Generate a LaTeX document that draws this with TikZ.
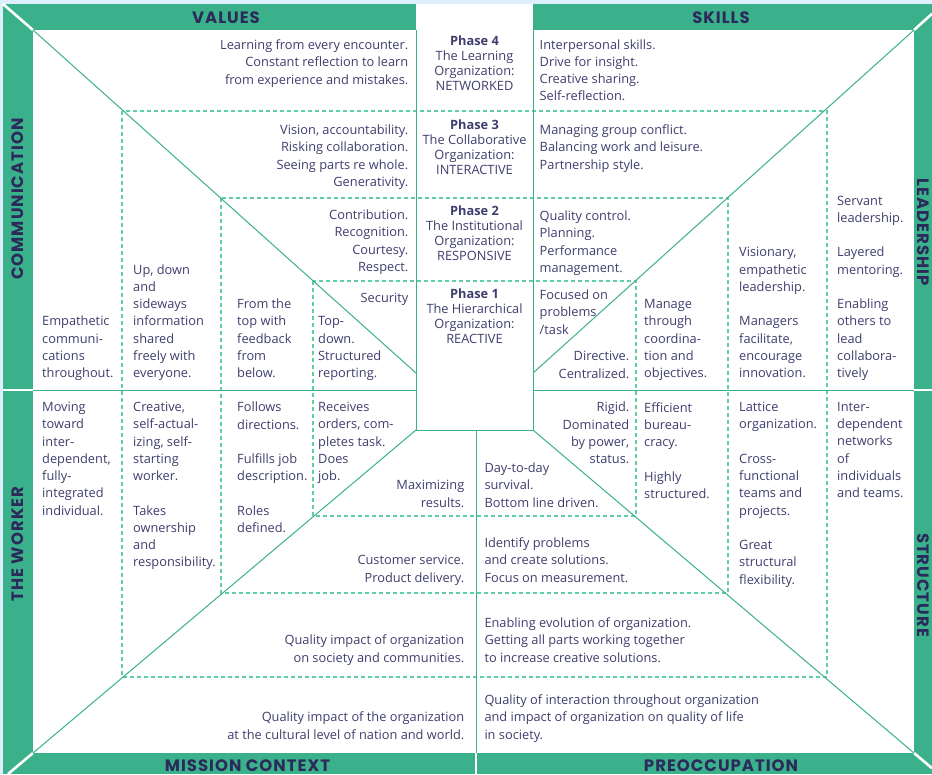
\documentclass[tikz,border=0pt]{standalone}
\usepackage{fontspec}
\setmainfont{Open Sans}
\newfontfamily\bandfont[LetterSpace=6]{Poppins}
\definecolor{paper}{HTML}{DDEFFA}
\definecolor{bandgreen}{HTML}{3BB18B}
\definecolor{ringgreen}{HTML}{5FCFA3}
\definecolor{ink}{HTML}{3F3E6E}
\definecolor{titleink}{HTML}{2B2A5B}

\begin{document}
\begin{tikzpicture}[
        x=1pt, y=-1pt,
        txt/.style={font=\fontsize{12.8}{17.25}\selectfont, text=ink, inner sep=0pt,
            execute at begin node=\strut, execute at end node=\strut},
        lft/.style={txt, align=left},
        rgt/.style={txt, align=right},
        phs/.style={font=\fontsize{12.8}{14.8}\selectfont, text=ink, inner sep=0pt,
            align=center, execute at begin node=\strut, execute at end node=\strut},
        band/.style={font=\bandfont\bfseries\fontsize{16.5}{16.5}\selectfont, text=titleink, inner sep=0pt},
        frame/.style={bandgreen, line width=1pt},
        ring/.style={ringgreen, line width=1.1pt, dash pattern=on 4pt off 3pt},
        cut/.style={white, line width=2.6pt}
    ]
        \useasboundingbox (0,0) rectangle (932,774);
        \fill[paper] (0,0) rectangle (932,774);

        % Outer green bands and white field
        \fill[bandgreen] (3,4) rectangle (932,774);
        \fill[white] (33,30) rectangle (914,753);
        \fill[white] (416,4) rectangle (533,30);

        % Key points
        \coordinate (tl) at (33,30);
        \coordinate (tr) at (914,30);
        \coordinate (bl) at (33,753);
        \coordinate (br) at (914,753);
        \coordinate (otl) at (3,4);
        \coordinate (otr) at (932,13.8);
        \coordinate (obl) at (8,774);
        \coordinate (obr) at (932,768.2);
        \coordinate (boxtl) at (416,30);
        \coordinate (boxtr) at (533,30);
        \coordinate (boxbl) at (416,430);
        \coordinate (boxbr) at (533,430);
        \coordinate (diagl) at (416,373);
        \coordinate (diagr) at (533,373);
        \coordinate (stemtop) at (476,430);
        \coordinate (stembot) at (476,753);
        \coordinate (stemend) at (476,774);
        \coordinate (midl) at (33,390);
        \coordinate (midlx) at (416,390);
        \coordinate (midr) at (533,390);
        \coordinate (midrx) at (914,390);
        \coordinate (bandl) at (3,390);
        \coordinate (bandr) at (932,390);

        % Gaps in the bands
        \draw[cut, line width=2pt] (bandl) -- (midl);
        \draw[cut, line width=2pt] (midrx) -- (bandr);
        \draw[cut, line width=2pt] (stembot) -- (stemend);
        \draw[cut] (otl) -- (tl);
        \draw[cut] (otr) -- (tr);
        \draw[cut] (obl) -- (bl);
        \draw[cut] (obr) -- (br);

        % Dashed rings
        \foreach \xa/\ya/\xb/\yb in {122/111/827/677, 221/198/728/593, 313/281/636/516} {
            \draw[ring] (\xa,\ya) rectangle (\xb,\yb);
        }

        % Solid lines
        \draw[frame] (boxtl) -- (boxbl) -- (boxbr) -- (boxtr);
        \draw[frame] (stemtop) -- (stembot);
        \draw[frame] (midl) -- (midlx);
        \draw[frame] (midr) -- (midrx);
        \draw[frame] (tl) -- (diagl);
        \draw[frame] (tr) -- (diagr);
        \draw[frame] (bl) -- (boxbl);
        \draw[frame] (br) -- (boxbr);

        % Band titles
        \node[band] (values) at (226,18) {VALUES};
        \node[band] (skills) at (721,18) {SKILLS};
        \node[band] (mission) at (247.5,766) {MISSION CONTEXT};
        \node[band] (preocc) at (721,766) {PREOCCUPATION};
        \node[band, rotate=90] (comm) at (18,199) {COMMUNICATION};
        \node[band, rotate=90] (worker) at (18,544) {THE WORKER};
        \node[band, rotate=-90] (lead) at (923,232) {LEADERSHIP};
        \node[band, rotate=-90] (struct) at (923,585) {STRUCTURE};

        % Phases
        \node[phs, anchor=north] (phasefour) at (474.5,35.8) {\textbf{Phase 4}\\The Learning\\Organization:\\NETWORKED};
        \node[phs, anchor=north] (phasethree) at (474.5,119.7) {\textbf{Phase 3}\\The Collaborative\\Organization:\\INTERACTIVE};
        \node[phs, anchor=north] (phasetwo) at (474.5,205.7) {\textbf{Phase 2}\\The Institutional\\Organization:\\RESPONSIVE};
        \node[phs, anchor=north] (phaseone) at (474.5,288.7) {\textbf{Phase 1}\\The Hierarchical\\Organization:\\REACTIVE};

        % Values
        \node[rgt, anchor=north east] (valfour) at (408.5,39.6) {Learning from every encounter.\\Constant reflection to learn\\from experience and mistakes.};
        \node[rgt, anchor=north east] (valthree) at (408.5,124.6) {Vision, accountability.\\Risking collaboration.\\Seeing parts re whole.\\Generativity.};
        \node[rgt, anchor=north east] (valtwo) at (408.5,209.6) {Contribution.\\Recognition.\\Courtesy.\\Respect.};
        \node[rgt, anchor=north east] (valone) at (408.5,290.3) {Security};

        % Skills
        \node[lft, anchor=north west] (skillfour) at (539.5,39.1) {Interpersonal skills.\\Drive for insight.\\Creative sharing.\\Self-reflection.};
        \node[lft, anchor=north west] (skillthree) at (539.5,124.6) {Managing group conflict.\\Balancing work and leisure.\\Partnership style.};
        \node[lft, anchor=north west] (skilltwo) at (539.5,210.6) {Quality control.\\Planning.\\Performance\\management.};
        \node[lft, anchor=north west] (skillone) at (539.5,289.6) {Focused on\\problems\\/task};

        % Communication
        \node[lft, anchor=south west] (commfour) at (42,383.1) {Empathetic\\communi-\\cations\\throughout.};
        \node[lft, anchor=south west] (commthree) at (133,383.1) {Up, down\\and\\sideways\\information\\shared\\freely with\\everyone.};
        \node[lft, anchor=south west] (commtwo) at (237,383.1) {From the\\top with\\feedback\\from\\below.};
        \node[lft, anchor=south west] (commone) at (318,383.1) {Top-\\down.\\Structured\\reporting.};

        % Leadership
        \node[rgt, anchor=south east] (leadone) at (629.5,383.6) {Directive.\\Centralized.};
        \node[lft, anchor=south west] (leadtwo) at (644,383.1) {Manage\\through\\coordina-\\tion and\\objectives.};
        \node[lft, anchor=south west] (leadthree) at (739,383.1) {Visionary,\\empathetic\\leadership.\\[17.25pt]Managers\\facilitate,\\encourage\\innovation.};
        \node[lft, anchor=south west] (leadfour) at (837,383.1) {Servant\\leadership.\\[17.25pt]Layered\\mentoring.\\[17.25pt]Enabling\\others to\\lead\\collabora-\\tively};

        % The worker
        \node[lft, anchor=north west] (workfour) at (42,402) {Moving\\toward\\inter-\\dependent,\\fully-\\integrated\\individual.};
        \node[lft, anchor=north west] (workthree) at (133,402) {Creative,\\self-actual-\\izing, self-\\starting\\worker.\\[17.25pt]Takes\\ownership\\and\\responsibility.};
        \node[lft, anchor=north west] (worktwo) at (237,402) {Follows\\directions.\\[17.25pt]Fulfills job\\description.\\[17.25pt]Roles\\defined.};
        \node[lft, anchor=north west] (workone) at (318,402) {Receives\\orders, com-\\pletes task.\\Does\\job.};

        % Structure
        \node[rgt, anchor=north east] (structone) at (629.5,402) {Rigid.\\Dominated\\by power,\\status.};
        \node[lft, anchor=north west] (structtwo) at (644,402) {Efficient\\bureau-\\cracy.\\[17.25pt]Highly\\structured.};
        \node[lft, anchor=north west] (structthree) at (739,402) {Lattice\\organization.\\[17.25pt]Cross-\\functional\\teams and\\projects.\\[17.25pt]Great\\structural\\flexibility.};
        \node[lft, anchor=north west] (structfour) at (837,402) {Inter-\\dependent\\networks\\of\\individuals\\and teams.};

        % Mission context
        \node[rgt, anchor=south east] (misone) at (464.5,512.6) {Maximizing\\results.};
        \node[rgt, anchor=south east] (mistwo) at (464.5,587.6) {Customer service.\\Product delivery.};
        \node[rgt, anchor=south east] (misthree) at (464.5,667.6) {Quality impact of organization\\on society and communities.};
        \node[rgt, anchor=south east] (misfour) at (464.5,744.6) {Quality impact of the organization\\at the cultural level of nation and world.};

        % Preoccupation
        \node[lft, anchor=south west] (preone) at (484.3,512.6) {Day-to-day\\survival.\\Bottom line driven.};
        \node[lft, anchor=south west] (pretwo) at (484.3,587.6) {Identify problems\\and create solutions.\\Focus on measurement.};
        \node[lft, anchor=south west] (prethree) at (484.3,667.6) {Enabling evolution of organization.\\Getting all parts working together\\to increase creative solutions.};
        \node[lft, anchor=south west] (prefour) at (484.3,744.6) {Quality of interaction throughout organization\\and impact of organization on quality of life\\in society.};
    \end{tikzpicture}
\end{document}
